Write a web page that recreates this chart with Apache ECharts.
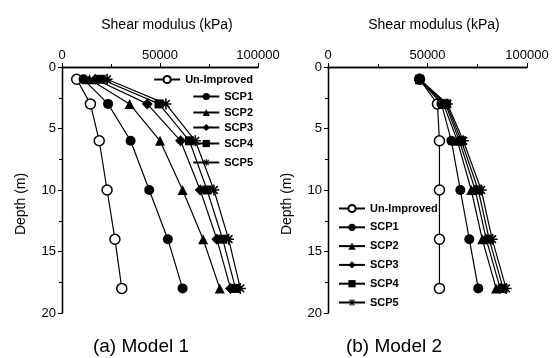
<!DOCTYPE html>
<html><head><meta charset="utf-8">
<script src="https://cdn.jsdelivr.net/npm/echarts@6/dist/echarts.min.js"></script>
<style>html,body{margin:0;padding:0;background:#fff}#c{width:553px;height:358px}</style>
</head><body><div id="c"></div>
<script>
var depths = [1, 3, 6, 10, 14, 18];
var seriesNames = ['Un-Improved', 'SCP1', 'SCP2', 'SCP3', 'SCP4', 'SCP5'];
var xTicks = [0, 50000, 100000];
var yTicks = [0, 5, 10, 15, 20];
// Model 1
var m1Unimproved = [7500, 14500, 19000, 23000, 27000, 30500];
var m1Scp1 = [11000, 23500, 35000, 44500, 54000, 61500];
var m1Scp2 = [14000, 34500, 50000, 61500, 72000, 80500];
var m1Scp3 = [17000, 43500, 60500, 70500, 79000, 86000];
var m1Scp4 = [20000, 49500, 65000, 74000, 82000, 88500];
var m1Scp5 = [23000, 53000, 68000, 77500, 85000, 91000];
// Model 2
var m2Unimproved = [46000, 55000, 56000, 56000, 56000, 56000];
var m2Scp1 = [46000, 57000, 62000, 66500, 71000, 75500];
var m2Scp2 = [46000, 58000, 65000, 72000, 77500, 84500];
var m2Scp3 = [46000, 59000, 66000, 74000, 79500, 86500];
var m2Scp4 = [46000, 59500, 67000, 75500, 81000, 88000];
var m2Scp5 = [46000, 60000, 68000, 77000, 82500, 89500];

var FONT = 'Liberation Sans, Arial, sans-serif';
var asterisk = 'path://M0,4.3 L10,4.3 L10,5.7 L0,5.7 Z M4.3,0 L5.7,0 L5.7,10 L4.3,10 Z M1,2 L2,1 L9,8 L8,9 Z M8,1 L9,2 L2,9 L1,8 Z';
var symbols = ['circle', 'circle', 'triangle', 'diamond', 'rect', asterisk];
var sizes = [10, 10, 10, 11, 9, 11];

function mk(name, vals, idx, gi) {
  var i = seriesNames.indexOf(name);
  var open = (i === 0);
  return {
    type: 'line', name: name, xAxisIndex: gi * 2, yAxisIndex: gi * 2,
    data: vals.map(function (v, k) { return [v, depths[k]]; }),
    symbol: symbols[i], symbolSize: sizes[i],
    showAllSymbol: true,
    lineStyle: { color: '#000', width: 1.2 },
    itemStyle: {
      color: open ? '#fff' : '#000',
      borderColor: '#000', borderWidth: open ? 1.5 : 0
    },
    z: (gi === 1 && i === 1) ? 10 : 3 + i,
    animation: false
  };
}

function xAx(gi, top) {
  return {
    type: 'value', gridIndex: gi, position: top ? 'top' : 'bottom',
    min: 0, max: 100000, interval: 50000,
    axisLine: { show: true, lineStyle: { color: '#000', width: 1.3 } },
    axisTick: { show: true, inside: !top, length: 4, lineStyle: { color: '#000' } },
    minorTick: { show: true, splitNumber: 2, length: 3, lineStyle: { color: '#000' } },
    axisLabel: { show: top, color: '#000', fontSize: 13, fontFamily: FONT, margin: 5,
      formatter: function (v) { return xTicks.indexOf(v) >= 0 ? String(v) : ''; } },
    splitLine: { show: false }
  };
}
function yAx(gi, left) {
  return {
    type: 'value', gridIndex: gi, position: left ? 'left' : 'right', inverse: true,
    min: 0, max: 20, interval: 5,
    name: left ? 'Depth (m)' : '', nameLocation: 'middle', nameGap: 34, nameRotate: 90,
    nameTextStyle: { color: '#000', fontSize: 14, fontFamily: FONT, padding: [0, 28, 0, 0] },
    axisLine: { show: true, lineStyle: { color: '#000', width: 1.3 } },
    axisTick: { show: true, inside: !left, length: 4, lineStyle: { color: '#000' } },
    minorTick: { show: true, splitNumber: 2, length: 3, lineStyle: { color: '#000' } },
    axisLabel: { show: left, color: '#000', fontSize: 13, fontFamily: FONT, margin: 6,
      formatter: function (v) { return yTicks.indexOf(v) >= 0 ? String(v) : ''; } },
    splitLine: { show: false }
  };
}

var legendText = { color: '#000', fontSize: 11, fontWeight: 'bold', fontFamily: FONT };
var legends = [];
var l1Tops = [74, 91, 107, 122, 138, 157];
seriesNames.forEach(function (n, i) {
  legends.push({
    data: [n], right: 300, top: l1Tops[i], orient: 'vertical',
    itemWidth: 26, itemHeight: 9, itemGap: 4, padding: 0,
    textStyle: legendText, selectedMode: false
  });
});
legends.push({
  data: seriesNames, left: 338, top: 203, orient: 'vertical',
  itemWidth: 26, itemHeight: 9, itemGap: 7.8, padding: 0,
  textStyle: legendText, selectedMode: false
});

var chart = echarts.init(document.getElementById('c'), null, { renderer: 'canvas' });
chart.setOption({
  backgroundColor: '#fff',
  animation: false,
  title: [
    { text: 'Shear modulus (kPa)', left: 162, top: 13, textAlign: 'center',
      textStyle: { color: '#000', fontSize: 14, fontWeight: 'normal', fontFamily: FONT } },
    { text: 'Shear modulus (kPa)', left: 429, top: 13, textAlign: 'center',
      textStyle: { color: '#000', fontSize: 14, fontWeight: 'normal', fontFamily: FONT } },
    { text: '(a) Model 1', left: 136, top: 332, textAlign: 'center',
      textStyle: { color: '#000', fontSize: 19, fontWeight: 'normal', fontFamily: FONT } },
    { text: '(b) Model 2', left: 389, top: 332, textAlign: 'center',
      textStyle: { color: '#000', fontSize: 19, fontWeight: 'normal', fontFamily: FONT } }
  ],
  legend: legends,
  grid: [
    { left: 62, top: 67, width: 196, height: 246, containLabel: false, outerBoundsMode: 'none' },
    { left: 328, top: 67, width: 199, height: 246, containLabel: false, outerBoundsMode: 'none' }
  ],
  xAxis: [xAx(0, true), xAx(0, false), xAx(1, true), xAx(1, false)],
  yAxis: [yAx(0, true), yAx(0, false), yAx(1, true), yAx(1, false)],
  series: [
    mk('Un-Improved', m1Unimproved, 0, 0), mk('SCP1', m1Scp1, 1, 0), mk('SCP2', m1Scp2, 2, 0),
    mk('SCP3', m1Scp3, 3, 0), mk('SCP4', m1Scp4, 4, 0), mk('SCP5', m1Scp5, 5, 0),
    mk('Un-Improved', m2Unimproved, 0, 1), mk('SCP1', m2Scp1, 1, 1), mk('SCP2', m2Scp2, 2, 1),
    mk('SCP3', m2Scp3, 3, 1), mk('SCP4', m2Scp4, 4, 1), mk('SCP5', m2Scp5, 5, 1)
  ]
});
</script></body></html>
